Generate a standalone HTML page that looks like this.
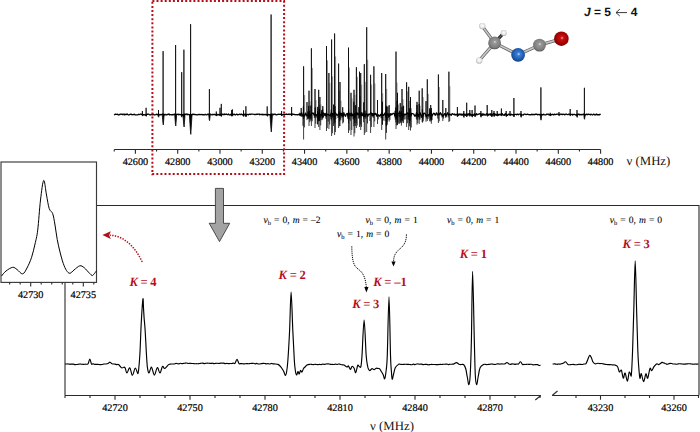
<!DOCTYPE html>
<html><head><meta charset="utf-8"><style>
html,body{margin:0;padding:0;background:#fff;width:700px;height:432px;overflow:hidden}
svg{display:block;text-rendering:geometricPrecision}
.ax{stroke:#2a2a2a;stroke-width:1.1;fill:none}
.sp{fill:none;stroke:#000;stroke-linejoin:round}
.tl{font-family:"Liberation Serif",serif;font-size:10.2px;fill:#000;stroke:#000;stroke-width:0.2px}
.axl{font-family:"Liberation Serif",serif;font-size:12.8px;fill:#111}
.jl{font-family:"Liberation Sans",sans-serif;font-size:12px;font-weight:bold;fill:#111}
.lab{font-family:"Liberation Serif",serif;font-size:9.6px;fill:#000;stroke:#000;stroke-width:0.08px;word-spacing:0.6px}
.eq{fill:#666;stroke:#666}
.kl{font-family:"Liberation Serif",serif;font-size:12.6px;font-weight:bold;fill:#b50f1c;word-spacing:-0.5px}
</style></head><body>
<svg width="700" height="432" viewBox="0 0 700 432">
<defs>
<radialGradient id="gC" cx="0.5" cy="0.45" r="0.6" fx="0.52" fy="0.42"><stop offset="0" stop-color="#e6e6e6"/><stop offset="0.18" stop-color="#9a9a9a"/><stop offset="0.75" stop-color="#7a7a7a"/><stop offset="1" stop-color="#3a3a3a"/></radialGradient>
<radialGradient id="gN" cx="0.5" cy="0.45" r="0.6" fx="0.55" fy="0.45"><stop offset="0" stop-color="#b8dcff"/><stop offset="0.2" stop-color="#3a80d8"/><stop offset="0.75" stop-color="#1a52a2"/><stop offset="1" stop-color="#0a2a60"/></radialGradient>
<radialGradient id="gO" cx="0.5" cy="0.45" r="0.6" fx="0.55" fy="0.45"><stop offset="0" stop-color="#ff9a9a"/><stop offset="0.2" stop-color="#c81010"/><stop offset="0.75" stop-color="#980000"/><stop offset="1" stop-color="#4a0000"/></radialGradient>
<radialGradient id="gH" cx="0.5" cy="0.45" r="0.6"><stop offset="0" stop-color="#ffffff"/><stop offset="0.6" stop-color="#e6e6e6"/><stop offset="1" stop-color="#8a8a8a"/></radialGradient>
</defs>
<line x1="494.6" y1="42.9" x2="482.3" y2="26.1" stroke="#6a6a6a" stroke-width="3.2" stroke-linecap="round"/>
<line x1="494.6" y1="42.9" x2="482.3" y2="26.1" stroke="#c8c8c8" stroke-width="1.6" stroke-linecap="round"/>
<line x1="494.6" y1="42.9" x2="479.2" y2="60.5" stroke="#6a6a6a" stroke-width="3.2" stroke-linecap="round"/>
<line x1="494.6" y1="42.9" x2="479.2" y2="60.5" stroke="#c8c8c8" stroke-width="1.6" stroke-linecap="round"/>
<line x1="494.6" y1="42.9" x2="518.1" y2="54.8" stroke="#6a6a6a" stroke-width="3.2" stroke-linecap="round"/>
<line x1="494.6" y1="42.9" x2="518.1" y2="54.8" stroke="#c8c8c8" stroke-width="1.6" stroke-linecap="round"/>
<line x1="518.1" y1="54.8" x2="539.5" y2="45.1" stroke="#6a6a6a" stroke-width="3.2" stroke-linecap="round"/>
<line x1="518.1" y1="54.8" x2="539.5" y2="45.1" stroke="#c8c8c8" stroke-width="1.6" stroke-linecap="round"/>
<line x1="539.5" y1="45.1" x2="561.4" y2="38.7" stroke="#6a6a6a" stroke-width="3.2" stroke-linecap="round"/>
<line x1="539.5" y1="45.1" x2="561.4" y2="38.7" stroke="#c8c8c8" stroke-width="1.6" stroke-linecap="round"/>
<line x1="494.6" y1="42.9" x2="503.7" y2="33" stroke="#222" stroke-width="3.2" stroke-linecap="round"/>
<line x1="494.6" y1="42.9" x2="503.7" y2="33" stroke="#5a5a5a" stroke-width="1.2" stroke-linecap="round"/>
<circle cx="482.3" cy="26.1" r="3.1" fill="url(#gH)"/>
<circle cx="479.2" cy="60.5" r="3.1" fill="url(#gH)"/>
<circle cx="494.6" cy="42.9" r="6.4" fill="url(#gC)"/>
<circle cx="503.7" cy="33" r="2.9" fill="url(#gH)"/>
<circle cx="518.1" cy="54.8" r="6.9" fill="url(#gN)"/>
<circle cx="539.5" cy="45.1" r="6.4" fill="url(#gC)"/>
<circle cx="561.4" cy="38.7" r="7.3" fill="url(#gO)"/>
<path d="M304.6 114.5 L304.6 95.08 M310 114.5 L310 101.38 M312.4 114.5 L312.4 68.09 M316 114.5 L316 100.14 M319.7 114.5 L319.7 104.94 M320.9 114.5 L320.9 104.41 M327.5 114.5 L327.5 60.34 M329.9 114.5 L329.9 82.87 M332.6 114.5 L332.6 76.41 M335.6 114.5 L335.6 56.42 M339.6 114.5 L339.6 90.66 M341 114.5 L341 100.77 M349.5 114.5 L349.5 67.46 M352 114.5 L352 98.38 M355 114.5 L355 94.82 M357.4 114.5 L357.4 76.86 M360.5 114.5 L360.5 96.12 M361.7 114.5 L361.7 84.66 M365.3 114.5 L365.3 81.87 M367.7 114.5 L367.7 59.74 M371.6 114.5 L371.6 84.61 M374.9 114.5 L374.9 83.46 M382.7 114.5 L382.7 93.31 M386.7 114.5 L386.7 88.95 M397 114.5 L397 82.57 M398.5 114.5 L398.5 104.48 M403 114.5 L403 99.25 M407.6 114.5 L407.6 91.44 M409.7 114.5 L409.7 101.06 M411.5 114.5 L411.5 108.32 M420.2 114.5 L420.2 105.75 M423.2 114.5 L423.2 97.13 M428.3 114.5 L428.3 93.89 M439.4 114.5 L439.4 87.07 M449.9 114.5 L449.9 86.18" fill="none" stroke="#888" stroke-width="0.9"/>
<path d="M114 114.87 L114.6 114.61 L115.2 114.15 L115.8 114.25 L116.4 114.35 L117 114.36 L117.6 114.12 L118.2 114.85 L118.8 114.99 L119.4 114.47 L120 114.48 L120.6 114.09 L121.2 114.1 L121.8 114.34 L122.4 114.26 L123 114.83 L123.6 114.16 L124.2 114.02 L124.8 114.95 L125.4 114.53 L126 114.15 L126.6 114.54 L127.2 114.03 L127.8 114.53 L128.4 114.98 L129 114.86 L129.6 114.7 L130.2 114.26 L130.8 114.37 L131.4 114.17 L132 114.77 L132.6 114.53 L133.2 114.78 L133.8 114.33 L134.4 114.22 L135 114.81 L135.6 114.98 L136.2 114.85 L136.8 114.81 L137.4 114.82 L138 114.74 L138.6 114.23 L139.2 114.52 L139.8 114.36 L140.4 114.03 L141 114.03 L141.6 114.28 L142.2 114.26 L142.8 114.69 L143.4 114.96 L144 114.45 L144.6 114.94 L145.2 114.99 L145.8 114.96 L146.4 114.36 L147 114.22 L147.6 114.23 L148.2 114.2 L148.8 114.2 L149.4 114.62 L150 114.9 L150.6 114.84 L151.2 114.48 L151.8 114.65 L152.4 114.8 L153 114.08 L153.6 114.66 L154.2 114.91 L154.8 114.78 L155.4 114.75 L156 114.48 L156.6 114.18 L157.2 114.79 L157.8 114.33 L158.4 114.8 L159 114.97 L159.6 114.4 L160.2 114.4 L160.8 114.95 L161.4 114.72 L162 114.17 L162.6 114.13 L163.2 114.15 L163.8 114.9 L164.4 114.81 L165 114.15 L165.6 114.83 L166.2 114.98 L166.8 114.66 L167.4 114.35 L168 114.55 L168.6 114.13 L169.2 114.01 L169.8 114.97 L170.4 114.65 L171 114.53 L171.6 114.93 L172.2 114.43 L172.8 114.87 L173.4 114.83 L174 114.21 L174.6 114.25 L175.2 114.29 L175.8 114.24 L176.4 114.59 L177 114.26 L177.6 114.42 L178.2 114.13 L178.8 114.91 L179.4 114.35 L180 114.46 L180.6 114.58 L181.2 114.9 L181.8 114.42 L182.4 114.92 L183 114.5 L183.6 114.53 L184.2 114.52 L184.8 114.02 L185.4 114.44 L186 114.18 L186.6 114 L187.2 114.8 L187.8 114.17 L188.4 114.47 L189 114.73 L189.6 114.56 L190.2 114.33 L190.8 114.52 L191.4 114.56 L192 114.78 L192.6 114.11 L193.2 114.56 L193.8 114.25 L194.4 114.28 L195 114.77 L195.6 114.51 L196.2 114.56 L196.8 114.76 L197.4 114.91 L198 114.44 L198.6 114.61 L199.2 114.51 L199.8 114.51 L200.4 114.69 L201 114.45 L201.6 114.53 L202.2 114.48 L202.8 114.94 L203.4 114.7 L204 114.88 L204.6 114.94 L205.2 114.26 L205.8 114.56 L206.4 114.94 L207 114.84 L207.6 114.14 L208.2 114.12 L208.8 114.44 L209.4 114.07 L210 114.24 L210.6 114.07 L211.2 114.67 L211.8 114.78 L212.4 114.9 L213 114.15 L213.6 114.72 L214.2 114.66 L214.8 114.14 L215.4 114.88 L216 114.97 L216.6 114.22 L217.2 114.95 L217.8 114.4 L218.4 114.49 L219 114.99 L219.6 114.83 L220.2 114.16 L220.8 114.43 L221.4 114.52 L222 114.34 L222.6 114.2 L223.2 114.32 L223.8 114.72 L224.4 114.02 L225 114.55 L225.6 114.44 L226.2 114.02 L226.8 114.33 L227.4 114.62 L228 114.51 L228.6 114.06 L229.2 114.99 L229.8 114.79 L230.4 114.97 L231 114.1 L231.6 114.27 L232.2 114.04 L232.8 114.78 L233.4 114.27 L234 114.13 L234.6 114.42 L235.2 114.91 L235.8 114.82 L236.4 114.26 L237 114.15 L237.6 114.92 L238.2 114.57 L238.8 114.7 L239.4 114.09 L240 114.06 L240.6 114.69 L241.2 114.43 L241.8 114.07 L242.4 114.94 L243 114.63 L243.6 114.8 L244.2 114.08 L244.8 114.86 L245.4 114.07 L246 114.86 L246.6 114.45 L247.2 114.34 L247.8 114.55 L248.4 114.93 L249 114.27 L249.6 114.13 L250.2 114.53 L250.8 114.24 L251.4 114.11 L252 114.16 L252.6 114.05 L253.2 114.2 L253.8 114.31 L254.4 114.31 L255 114.76 L255.6 114.29 L256.2 114.5 L256.8 114.18 L257.4 114.35 L258 114.02 L258.6 114.25 L259.2 114.02 L259.8 114.73 L260.4 114.55 L261 114.19 L261.6 114.47 L262.2 114.93 L262.8 114.11 L263.4 114.82 L264 114.43 L264.6 114.5 L265.2 114.83 L265.8 114.39 L266.4 114.51 L267 114.69 L267.6 114.98 L268.2 114.34 L268.8 114.83 L269.4 114.71 L270 114.64 L270.6 114.4 L271.2 114.35 L271.8 114.05 L272.4 114.13 L273 114.07 L273.6 114.74 L274.2 114.26 L274.8 114.16 L275.4 114.08 L276 114.84 L276.6 114.87 L277.2 114.67 L277.8 114.28 L278.4 114.24 L279 114.29 L279.6 114.46 L280.2 114.16 L280.8 114.45 L281.4 114.26 L282 114.96 L282.6 114.97 L283.2 114.55 L283.8 114.24 L284.4 114.97 L285 114.31 L285.6 114.36 L286.2 114 L286.8 114.38 L287.4 114.47 L288 114.5 L288.6 114.2 L289.2 114.5 L289.8 114 L290.4 114.26 L291 114.09 L291.6 114.4 L292.2 114.04 L292.8 114.02 L293.4 114.3 L294 114.23 L294.6 114.59 L295.2 114.53 L295.8 114.75 L296.4 114.66 L297 114.72 L297.6 114.88 L298.2 114.39 L298.8 114.33 L299.4 114.98 L300 113.24 L300.6 115.31 L301.2 115.02 L301.8 112.86 L302.4 115.71 L303 115.91 L303.6 114.96 L304.2 115.34 L304.8 115.62 L305.4 113.2 L306 114.59 L306.6 114.52 L307.2 115.71 L307.8 115.6 L308.4 115.68 L309 114.8 L309.6 115.91 L310.2 115.16 L310.8 115.2 L311.4 113.53 L312 112.81 L312.6 113.18 L313.2 114 L313.8 113.08 L314.4 115.71 L315 114.71 L315.6 114.96 L316.2 114.95 L316.8 115.15 L317.4 114.46 L318 112.71 L318.6 115.57 L319.2 115.39 L319.8 114.51 L320.4 114.63 L321 115.07 L321.6 112.94 L322.2 115.35 L322.8 113.61 L323.4 112.97 L324 113.66 L324.6 115.33 L325.2 113.44 L325.8 115.36 L326.4 116.21 L327 114.48 L327.6 114.08 L328.2 114.42 L328.8 115.16 L329.4 115.46 L330 114.92 L330.6 115.01 L331.2 112.98 L331.8 113.23 L332.4 113.61 L333 115.38 L333.6 113.8 L334.2 114.74 L334.8 112.74 L335.4 112.92 L336 113.67 L336.6 115.12 L337.2 115.19 L337.8 115.13 L338.4 113.75 L339 114.56 L339.6 114.37 L340.2 114.38 L340.8 113.13 L341.4 115.92 L342 113.42 L342.6 116.22 L343.2 116.07 L343.8 112.76 L344.4 114.35 L345 115.65 L345.6 116.19 L346.2 114.32 L346.8 113.67 L347.4 113.46 L348 116.1 L348.6 113.46 L349.2 114.79 L349.8 113.21 L350.4 114.59 L351 116.13 L351.6 113.18 L352.2 115.65 L352.8 114.53 L353.4 115.89 L354 115.23 L354.6 113.53 L355.2 115.93 L355.8 114.45 L356.4 112.79 L357 112.71 L357.6 114.47 L358.2 114.32 L358.8 113.79 L359.4 113.21 L360 113.94 L360.6 113.84 L361.2 115.72 L361.8 112.71 L362.4 115.4 L363 115.72 L363.6 113.13 L364.2 116.04 L364.8 115.27 L365.4 115.95 L366 113.74 L366.6 114.04 L367.2 114.11 L367.8 116.3 L368.4 114.82 L369 114 L369.6 114.24 L370.2 113.69 L370.8 112.87 L371.4 113.07 L372 115.7 L372.6 113.73 L373.2 116.07 L373.8 113.6 L374.4 113.66 L375 114.54 L375.6 113.38 L376.2 114.04 L376.8 116.14 L377.4 115.88 L378 115.62 L378.6 114.97 L379.2 115.99 L379.8 116.09 L380.4 114.68 L381 115.29 L381.6 112.88 L382.2 115.34 L382.8 114.32 L383.4 115.41 L384 115.02 L384.6 113.73 L385.2 112.88 L385.8 116.04 L386.4 113.16 L387 114.4 L387.6 113.94 L388.2 113.77 L388.8 115.36 L389.4 116.21 L390 113.64 L390.6 115.06 L391.2 113.78 L391.8 114.71 L392.4 114.12 L393 113.3 L393.6 113.28 L394.2 113.45 L394.8 115.96 L395.4 114.49 L396 113.49 L396.6 115.96 L397.2 116.29 L397.8 114.32 L398.4 113.2 L399 113.39 L399.6 113.03 L400.2 113.93 L400.8 113.03 L401.4 113.56 L402 113.63 L402.6 114.75 L403.2 115.89 L403.8 115.4 L404.4 114.19 L405 114.19 L405.6 114.59 L406.2 114.06 L406.8 113.92 L407.4 112.92 L408 113.7 L408.6 116.18 L409.2 113.15 L409.8 114.51 L410.4 114.97 L411 115.81 L411.6 113.48 L412.2 113.68 L412.8 113.59 L413.4 114.14 L414 114.31 L414.6 116.13 L415.2 115.76 L415.8 115.84 L416.4 112.78 L417 112.82 L417.6 115.25 L418.2 115.92 L418.8 114.4 L419.4 114.81 L420 112.7 L420.6 114.11 L421.2 116.04 L421.8 115.67 L422.4 115.78 L423 116.2 L423.6 113.59 L424.2 113.09 L424.8 113.26 L425.4 114.58 L426 115.16 L426.6 116.09 L427.2 115.3 L427.8 115.03 L428.4 115.45 L429 114.35 L429.6 114.69 L430.2 112.84 L430.8 115.52 L431.4 113.54 L432 116.01 L432.6 115.02 L433.2 113.79 L433.8 113.16 L434.4 113.61 L435 114.99 L435.6 115.21 L436.2 113.1 L436.8 112.95 L437.4 114.59 L438 114.8 L438.6 114.1 L439.2 113.5 L439.8 114.86 L440.4 112.74 L441 113.79 L441.6 114.36 L442.2 116.15 L442.8 115.02 L443.4 115.88 L444 114.41 L444.6 113.55 L445.2 113.59 L445.8 116.16 L446.4 115.24 L447 113.81 L447.6 112.78 L448.2 114.49 L448.8 115.13 L449.4 114.21 L450 114.06 L450.6 114.8 L451.2 115.27 L451.8 114.01 L452.4 113.66 L453 114.21 L453.6 114.36 L454.2 114.83 L454.8 113.96 L455.4 115.03 L456 114.93 L456.6 114.51 L457.2 113.97 L457.8 115.35 L458.4 114.16 L459 115.08 L459.6 114.02 L460.2 114 L460.8 114.97 L461.4 114.13 L462 115.31 L462.6 114.49 L463.2 113.94 L463.8 114 L464.4 114.35 L465 114.8 L465.6 115.31 L466.2 113.86 L466.8 114.31 L467.4 113.98 L468 115.35 L468.6 113.86 L469.2 113.69 L469.8 113.71 L470.4 114.31 L471 115.22 L471.6 115.19 L472.2 114.92 L472.8 115.4 L473.4 115.28 L474 114.19 L474.6 113.93 L475.2 115.28 L475.8 114.94 L476.4 113.66 L477 114.8 L477.6 114.28 L478.2 114.27 L478.8 114.2 L479.4 113.9 L480 113.61 L480.6 114.1 L481.2 114.23 L481.8 115.32 L482.4 113.82 L483 115.34 L483.6 113.97 L484.2 114.24 L484.8 115.08 L485.4 115.08 L486 114.38 L486.6 113.69 L487.2 114.45 L487.8 114.27 L488.4 115.26 L489 113.95 L489.6 114.26 L490.2 115.21 L490.8 113.65 L491.4 114.34 L492 115.06 L492.6 114.98 L493.2 113.67 L493.8 113.66 L494.4 113.71 L495 115.26 L495.6 114.06 L496.2 114.95 L496.8 115.22 L497.4 114.21 L498 114.09 L498.6 115.32 L499.2 114.71 L499.8 114.07 L500.4 114.89 L501 114.17 L501.6 114.1 L502.2 113.61 L502.8 114.96 L503.4 115.25 L504 114.74 L504.6 115.3 L505.2 113.64 L505.8 114.02 L506.4 114.46 L507 115.32 L507.6 115.32 L508.2 114.3 L508.8 114.05 L509.4 114.37 L510 114.49 L510.6 114.93 L511.2 114.18 L511.8 114.8 L512.4 114.74 L513 114.82 L513.6 114.77 L514.2 114.61 L514.8 114.33 L515.4 114.32 L516 114.36 L516.6 114.78 L517.2 114.08 L517.8 114.2 L518.4 114.75 L519 114.25 L519.6 114.06 L520.2 114.03 L520.8 114.55 L521.4 114.33 L522 114.98 L522.6 114.88 L523.2 114.99 L523.8 114.26 L524.4 114.08 L525 114.1 L525.6 114.5 L526.2 114.71 L526.8 114.45 L527.4 114.23 L528 114.42 L528.6 114.62 L529.2 114.67 L529.8 114.75 L530.4 114.85 L531 114.66 L531.6 114.12 L532.2 114.84 L532.8 114.29 L533.4 114.57 L534 114.37 L534.6 114.74 L535.2 114.2 L535.8 114.25 L536.4 114.25 L537 114.15 L537.6 114.88 L538.2 114.58 L538.8 114.33 L539.4 114.4 L540 114.99 L540.6 114.51 L541.2 114.23 L541.8 114.81 L542.4 114.65 L543 114.99 L543.6 114.1 L544.2 114.47 L544.8 114.82 L545.4 114.84 L546 114.91 L546.6 114.04 L547.2 114.29 L547.8 114.12 L548.4 114.19 L549 114.97 L549.6 114.58 L550.2 114.93 L550.8 114.37 L551.4 114.87 L552 114.45 L552.6 114.26 L553.2 114.78 L553.8 114.95 L554.4 114.11 L555 114.6 L555.6 114.62 L556.2 114.22 L556.8 114.37 L557.4 114.14 L558 114.2 L558.6 114.25 L559.2 114.6 L559.8 114.65 L560.4 114.2 L561 114.01 L561.6 114.33 L562.2 114.68 L562.8 114.19 L563.4 114.31 L564 114.2 L564.6 114.8 L565.2 114.55 L565.8 114.06 L566.4 114.1 L567 114.4 L567.6 114.55 L568.2 114.64 L568.8 114.09 L569.4 114.16 L570 114.7 L570.6 114.41 L571.2 114.28 L571.8 114.31 L572.4 114.95 L573 114.31 L573.6 114.57 L574.2 114.36 L574.8 114.42 L575.4 114.86 L576 115 L576.6 114.36 L577.2 114.2 L577.8 114.73 L578.4 114.2 L579 114.01 L579.6 114.9 L580.2 114.42 L580.8 114.82 L581.4 114.41 L582 114.88 L582.6 114.46 L583.2 114.16 L583.8 114.01 L584.4 114.55 L585 114.64 L585.6 114.91 L586.2 114.09 L586.8 114.62 L587.4 114.37 L588 114.5 L588.6 114.15 L589.2 114.28 L589.8 114.52 L590.4 114.93 L591 114.11 L591.6 114.49 L592.2 114.8 L592.8 114.97 L593.4 114.2 L594 114.13 L594.6 114.94 L595.2 114.98 L595.8 114.48 L596.4 114.05 L597 114.93 L597.6 114.39 L598.2 114.9 L598.8 114.62 L599.4 114.82 L600 114.16 L600.6 114.79" class="sp" stroke-width="1.3"/>
<path d="M142.4 114.5 L142.4 111 L142.4 115.5 M141.89 114.5 L142.2 115.66 L142.6 115.94 L143.11 114.5 Z M146.1 114.5 L146.1 107.8 L146.1 115.5 M145.58 114.5 L145.9 115.95 L146.3 116.31 L146.82 114.5 Z M158.5 114.5 L158.5 110 L158.5 115.5 M157.94 114.5 L158.3 116.65 L158.7 117.19 L159.26 114.5 Z M163.1 114.5 L163.1 51.1 L163.1 115.5 M162.23 114.5 L162.9 122.9 L163.3 125 L164.17 114.5 Z M175.6 114.5 L175.6 45 L175.6 115.5 M174.69 114.5 L175.4 123.7 L175.8 126 L176.71 114.5 Z M181.7 114.5 L181.7 72.2 L181.7 115.5 M181.14 114.5 L181.5 116.63 L181.9 117.16 L182.46 114.5 Z M183.9 114.5 L183.9 49.7 L183.9 115.5 M182.95 114.5 L183.7 124.5 L184.1 127 L185.05 114.5 Z M190.6 114.5 L190.6 24.2 L190.6 115.5 M189.35 114.5 L190.4 130.42 L190.8 134.4 L192.05 114.5 Z M209.4 114.5 L209.4 89.1 L209.4 115.5 M208.7 114.5 L209.2 119.46 L209.6 120.7 L210.3 114.5 Z M216.3 114.5 L216.3 111.5 L216.3 115.5 M215.8 114.5 L216.1 115.59 L216.5 115.87 L217 114.5 Z M220 114.5 L220 107.8 L220 115.5 M219.49 114.5 L219.8 115.65 L220.2 115.94 L220.71 114.5 Z M221.3 114.5 L221.3 103.9 L221.3 115.5 M220.77 114.5 L221.1 116.1 L221.5 116.5 L222.03 114.5 Z M231.7 114.5 L231.7 110 L231.7 115.5 M231.18 114.5 L231.5 115.94 L231.9 116.3 L232.42 114.5 Z M232.4 114.5 L232.4 109.4 L232.4 115.5 M231.89 114.5 L232.2 115.7 L232.6 116 L233.11 114.5 Z M243.5 114.5 L243.5 110.4 L243.5 115.5 M242.97 114.5 L243.3 116.13 L243.7 116.54 L244.23 114.5 Z M245.9 114.5 L245.9 106.3 L245.9 115.5 M245.35 114.5 L245.7 116.5 L246.1 117 L246.65 114.5 Z M267.2 114.5 L267.2 106.4 L267.2 115.5 M266.68 114.5 L267 115.91 L267.4 116.27 L267.92 114.5 Z M271.1 114.5 L271.1 14.5 L271.1 115.5 M269.95 114.5 L270.9 128.5 L271.3 132 L272.45 114.5 Z M281.6 114.5 L281.6 111 L281.6 115.5 M281.1 114.5 L281.4 115.5 L281.8 115.75 L282.3 114.5 Z M291.6 114.5 L291.6 107 L291.6 115.5 M291.09 114.5 L291.4 115.7 L291.8 115.99 L292.31 114.5 Z M301.2 114.5 L301.2 108 L301.2 116.95 M302 114.5 L302 116.6 M300.5 114.5 L300.5 115.02 M303.38 114.5 L303.38 106.42 L303.38 119.01 M304.18 114.5 L304.18 117.77 M302.68 114.5 L302.68 116.43 M303.6 114.5 L303.6 66.3 L303.6 139.5 M304.4 114.5 L304.4 127.38 M302.9 114.5 L302.9 125.79 M306.99 114.5 L306.99 102.06 L306.99 120.11 M307.79 114.5 L307.79 118.65 M306.29 114.5 L306.29 116.55 M307.89 114.5 L307.89 111.5 L307.89 118.86 M308.69 114.5 L308.69 117.77 M307.19 114.5 L307.19 115.77 M308.7 114.5 L308.7 105.92 L308.7 117.84 M309.5 114.5 L309.5 116.73 M308 114.5 L308 115.75 M309 114.5 L309 90.7 L309 126 M309.8 114.5 L309.8 122.21 M308.3 114.5 L308.3 119.07 M309.42 114.5 L309.42 110.84 L309.42 119.35 M310.22 114.5 L310.22 117.78 M308.72 114.5 L308.72 115.5 M310.87 114.5 L310.87 105.61 L310.87 120.79 M311.67 114.5 L311.67 119.2 M310.17 114.5 L310.17 116.68 M311.4 114.5 L311.4 48.3 L311.4 126 M312.2 114.5 L312.2 121.33 M310.7 114.5 L310.7 119.43 M315 114.5 L315 89 L315 128 M315.8 114.5 L315.8 123.72 M314.3 114.5 L314.3 117.93 M315.22 114.5 L315.22 107.5 L315.22 117.73 M316.02 114.5 L316.02 116.25 M314.52 114.5 L314.52 115.27 M317.56 114.5 L317.56 110.85 L317.56 124.41 M318.36 114.5 L318.36 121.16 M316.86 114.5 L316.86 116.76 M317.71 114.5 L317.71 106.9 L317.71 124.31 M318.51 114.5 L318.51 121.14 M317.01 114.5 L317.01 117.96 M318.7 114.5 L318.7 89.8 L318.7 127 M319.5 114.5 L319.5 120.95 M318 114.5 L318 119.39 M319.4 114.5 L319.4 108.78 L319.4 121.02 M320.2 114.5 L320.2 119.67 M318.7 114.5 L318.7 117.32 M319.9 114.5 L319.9 97 L319.9 130 M320.7 114.5 L320.7 125.42 M319.2 114.5 L319.2 117.85 M321.64 114.5 L321.64 110.2 L321.64 120.28 M322.44 114.5 L322.44 118.26 M320.94 114.5 L320.94 117.3 M322.64 114.5 L322.64 109.56 L322.64 119.59 M323.44 114.5 L323.44 117.32 M321.94 114.5 L321.94 116.83 M322.8 114.5 L322.8 106.12 L322.8 117.85 M323.6 114.5 L323.6 117.51 M322.1 114.5 L322.1 115.91 M326.5 114.5 L326.5 46.1 L326.5 131 M327.3 114.5 L327.3 128.13 M325.8 114.5 L325.8 118.76 M328.9 114.5 L328.9 73 L328.9 129 M329.7 114.5 L329.7 124.6 M328.2 114.5 L328.2 121.56 M331.31 114.5 L331.31 109.71 L331.31 120.56 M332.11 114.5 L332.11 117.93 M330.61 114.5 L330.61 117.15 M331.6 114.5 L331.6 39.5 L331.6 136 M332.4 114.5 L332.4 133.25 M330.9 114.5 L330.9 119.22 M333.49 114.5 L333.49 104.6 L333.49 126.03 M334.29 114.5 L334.29 123.75 M332.79 114.5 L332.79 117.36 M334.6 114.5 L334.6 33.5 L334.6 135 M335.4 114.5 L335.4 132.1 M333.9 114.5 L333.9 120.29 M335 114.5 L335 106.17 L335 122.8 M335.8 114.5 L335.8 119.13 M334.3 114.5 L334.3 117.41 M338.6 114.5 L338.6 63.6 L338.6 128 M339.4 114.5 L339.4 126.22 M337.9 114.5 L337.9 118.04 M339.41 114.5 L339.41 111.45 L339.41 121.27 M340.21 114.5 L340.21 119.26 M338.71 114.5 L338.71 116.5 M340 114.5 L340 82 L340 126 M340.8 114.5 L340.8 120.42 M339.3 114.5 L339.3 117.43 M342.69 114.5 L342.69 107.26 L342.69 123.52 M343.49 114.5 L343.49 122.39 M341.99 114.5 L341.99 118.14 M348.5 114.5 L348.5 47.6 L348.5 133 M349.3 114.5 L349.3 130.38 M347.8 114.5 L347.8 119.14 M348.57 114.5 L348.57 109.84 L348.57 123.36 M349.37 114.5 L349.37 119.34 M347.87 114.5 L347.87 117.68 M351 114.5 L351 92.8 L351 135 M351.8 114.5 L351.8 129.97 M350.3 114.5 L350.3 120.81 M353.82 114.5 L353.82 101.77 L353.82 126.12 M354.62 114.5 L354.62 122.89 M353.12 114.5 L353.12 118.85 M354 114.5 L354 89.8 L354 136.5 M354.8 114.5 L354.8 133.27 M353.3 114.5 L353.3 119.59 M355.39 114.5 L355.39 105.27 L355.39 126.08 M356.19 114.5 L356.19 123.21 M354.69 114.5 L354.69 118.18 M356.4 114.5 L356.4 67.2 L356.4 128 M357.2 114.5 L357.2 125.56 M355.7 114.5 L355.7 118.27 M358.86 114.5 L358.86 107.11 L358.86 118.43 M359.66 114.5 L359.66 117.37 M358.16 114.5 L358.16 115.71 M359.5 114.5 L359.5 71.7 L359.5 127 M360.3 114.5 L360.3 124.57 M358.8 114.5 L358.8 118.66 M360.7 114.5 L360.7 73 L360.7 130 M361.5 114.5 L361.5 126.86 M360 114.5 L360 117.82 M363.68 114.5 L363.68 102.4 L363.68 118.61 M364.48 114.5 L364.48 116.97 M362.98 114.5 L362.98 116.11 M364.3 114.5 L364.3 64.2 L364.3 135 M365.1 114.5 L365.1 132.82 M363.6 114.5 L363.6 122.2 M365.05 114.5 L365.05 110.73 L365.05 118.32 M365.85 114.5 L365.85 116.89 M364.35 114.5 L364.35 115.27 M366.7 114.5 L366.7 27.2 L366.7 132 M367.5 114.5 L367.5 123.49 M366 114.5 L366 118.78 M370.6 114.5 L370.6 74.8 L370.6 133 M371.4 114.5 L371.4 126.95 M369.9 114.5 L369.9 121.05 M373.9 114.5 L373.9 66.3 L373.9 127 M374.7 114.5 L374.7 121.41 M373.2 114.5 L373.2 117.85 M377.5 114.5 L377.5 100 L377.5 124 M378.3 114.5 L378.3 119.33 M376.8 114.5 L376.8 116.41 M381.7 114.5 L381.7 73 L381.7 130 M382.5 114.5 L382.5 124.45 M381 114.5 L381 118.09 M382.42 114.5 L382.42 101.78 L382.42 124.87 M383.22 114.5 L383.22 120.62 M381.72 114.5 L381.72 118.39 M385.7 114.5 L385.7 74 L385.7 139.5 M386.5 114.5 L386.5 132.89 M385 114.5 L385 121.03 M386.16 114.5 L386.16 105.72 L386.16 125.38 M386.96 114.5 L386.96 122 M385.46 114.5 L385.46 117.11 M386.57 114.5 L386.57 107.14 L386.57 126.29 M387.37 114.5 L387.37 124.81 M385.87 114.5 L385.87 117.72 M387.83 114.5 L387.83 106.51 L387.83 120.2 M388.63 114.5 L388.63 117.69 M387.13 114.5 L387.13 115.8 M389.16 114.5 L389.16 105.12 L389.16 121.61 M389.96 114.5 L389.96 119.87 M388.46 114.5 L388.46 117.78 M395.14 114.5 L395.14 110.82 L395.14 118.11 M395.94 114.5 L395.94 117.43 M394.44 114.5 L394.44 115.66 M395.84 114.5 L395.84 107.4 L395.84 122.43 M396.64 114.5 L396.64 119.3 M395.14 114.5 L395.14 116.11 M396 114.5 L396 51.6 L396 129 M396.8 114.5 L396.8 125.49 M395.3 114.5 L395.3 119.85 M397.07 114.5 L397.07 100.58 L397.07 124.9 M397.87 114.5 L397.87 122.38 M396.37 114.5 L396.37 117.96 M397.5 114.5 L397.5 92.8 L397.5 125 M398.3 114.5 L398.3 123.69 M396.8 114.5 L396.8 118.91 M399.62 114.5 L399.62 110.83 L399.62 123.81 M400.42 114.5 L400.42 122.52 M398.92 114.5 L398.92 116.49 M400.23 114.5 L400.23 103.09 L400.23 122.66 M401.03 114.5 L401.03 120.31 M399.53 114.5 L399.53 117.12 M401.43 114.5 L401.43 110.91 L401.43 125.6 M402.23 114.5 L402.23 121.1 M400.73 114.5 L400.73 116.91 M402 114.5 L402 89 L402 123 M402.8 114.5 L402.8 121.4 M401.3 114.5 L401.3 116.23 M402.06 114.5 L402.06 106.8 L402.06 120.33 M402.86 114.5 L402.86 119.61 M401.36 114.5 L401.36 115.91 M403.57 114.5 L403.57 105.83 L403.57 123.06 M404.37 114.5 L404.37 119.46 M402.87 114.5 L402.87 117.77 M406.6 114.5 L406.6 82.3 L406.6 127 M407.4 114.5 L407.4 123.28 M405.9 114.5 L405.9 119.41 M408.7 114.5 L408.7 86.8 L408.7 130 M409.5 114.5 L409.5 123.33 M408 114.5 L408 119.04 M409.42 114.5 L409.42 108.33 L409.42 126.32 M410.22 114.5 L410.22 120.64 M408.72 114.5 L408.72 120.02 M410.5 114.5 L410.5 97 L410.5 130.5 M411.3 114.5 L411.3 127.51 M409.8 114.5 L409.8 121.13 M417 114.5 L417 101.88 L417 124.68 M417.8 114.5 L417.8 123.03 M416.3 114.5 L416.3 118.81 M417 114.5 L417 105 L417 120 M417.8 114.5 L417.8 118.27 M416.3 114.5 L416.3 116.82 M419.16 114.5 L419.16 103.81 L419.16 119.7 M419.96 114.5 L419.96 118.04 M418.46 114.5 L418.46 115.89 M419.2 114.5 L419.2 90.7 L419.2 124 M420 114.5 L420 119.65 M418.5 114.5 L418.5 117.06 M422.2 114.5 L422.2 88.3 L422.2 122 M423 114.5 L423 119.26 M421.5 114.5 L421.5 117.69 M422.42 114.5 L422.42 109.51 L422.42 122.73 M423.22 114.5 L423.22 121.4 M421.72 114.5 L421.72 117.9 M426 114.5 L426 101.11 L426 121.77 M426.8 114.5 L426.8 118.91 M425.3 114.5 L425.3 117.16 M427.3 114.5 L427.3 79.3 L427.3 121 M428.1 114.5 L428.1 118.88 M426.6 114.5 L426.6 117.34 M429.6 114.5 L429.6 108.44 L429.6 121.24 M430.4 114.5 L430.4 118.58 M428.9 114.5 L428.9 117.15 M430.7 114.5 L430.7 105 L430.7 120 M431.5 114.5 L431.5 119.37 M430 114.5 L430 115.96 M430.71 114.5 L430.71 110.61 L430.71 121.54 M431.51 114.5 L431.51 120.5 M430.01 114.5 L430.01 115.94 M431.32 114.5 L431.32 108.05 L431.32 123.76 M432.12 114.5 L432.12 120.09 M430.62 114.5 L430.62 117.01 M438.4 114.5 L438.4 74.5 L438.4 123 M439.2 114.5 L439.2 121.28 M437.7 114.5 L437.7 118.61 M442.8 114.5 L442.8 100 L442.8 121 M443.6 114.5 L443.6 118.6 M442.1 114.5 L442.1 117.52 M445.8 114.5 L445.8 108 L445.8 118 M446.6 114.5 L446.6 116.71 M445.1 114.5 L445.1 115.45 M448.9 114.5 L448.9 71.7 L448.9 122 M449.7 114.5 L449.7 120.97 M448.2 114.5 L448.2 117.42 M457.4 114.5 L457.4 107 L457.4 115.5 M456.86 114.5 L457.2 116.36 L457.6 116.83 L458.14 114.5 Z M463.8 114.5 L463.8 111 L463.8 115.5 M463.23 114.5 L463.6 116.87 L464 117.46 L464.57 114.5 Z M466.7 114.5 L466.7 102.7 L466.7 115.5 M466.15 114.5 L466.5 116.5 L466.9 117 L467.45 114.5 Z M469.8 114.5 L469.8 110 L469.8 115.5 M469.27 114.5 L469.6 116.05 L470 116.44 L470.53 114.5 Z M472.1 114.5 L472.1 110 L472.1 115.5 M471.54 114.5 L471.9 116.64 L472.3 117.18 L472.86 114.5 Z M475 114.5 L475 105.5 L475 115.5 M474.45 114.5 L474.8 116.42 L475.2 116.9 L475.75 114.5 Z M480.9 114.5 L480.9 111 L480.9 115.5 M480.34 114.5 L480.7 116.67 L481.1 117.22 L481.66 114.5 Z M487.2 114.5 L487.2 105 L487.2 115.5 M486.68 114.5 L487 116 L487.4 116.37 L487.92 114.5 Z M491.8 114.5 L491.8 110 L491.8 115.5 M491.25 114.5 L491.6 116.46 L492 116.95 L492.55 114.5 Z M494 114.5 L494 111 L494 115.5 M493.46 114.5 L493.8 116.21 L494.2 116.64 L494.74 114.5 Z M497.2 114.5 L497.2 111 L497.2 115.5 M496.69 114.5 L497 115.79 L497.4 116.12 L497.91 114.5 Z M501.4 114.5 L501.4 108.5 L501.4 115.5 M500.89 114.5 L501.2 115.64 L501.6 115.92 L502.11 114.5 Z M506.2 114.5 L506.2 111 L506.2 115.5 M505.66 114.5 L506 116.3 L506.4 116.75 L506.94 114.5 Z M510 114.5 L510 111 L510 115.5 M509.5 114.5 L509.8 115.42 L510.2 115.66 L510.7 114.5 Z M513.9 114.5 L513.9 98 L513.9 115.5 M513.35 114.5 L513.7 116.5 L514.1 117 L514.65 114.5 Z M521 114.5 L521 111 L521 115.5 M520.44 114.5 L520.8 116.76 L521.2 117.32 L521.76 114.5 Z M540.9 114.5 L540.9 87.4 L540.9 115.5 M540.22 114.5 L540.7 119.06 L541.1 120.2 L541.78 114.5 Z M550.2 114.5 L550.2 112.8 L550.2 115.5 M549.7 114.5 L550 115.53 L550.4 115.79 L550.9 114.5 Z M559 114.5 L559 112 L559 115.5 M558.51 114.5 L558.8 115.34 L559.2 115.55 L559.69 114.5 Z M570.2 114.5 L570.2 109 L570.2 115.5 M569.7 114.5 L570 115.47 L570.4 115.71 L570.9 114.5 Z M577 114.5 L577 110 L577 115.5 M576.44 114.5 L576.8 116.79 L577.2 117.36 L577.76 114.5 Z M584.4 114.5 L584.4 87.8 L584.4 115.5 M583.76 114.5 L584.2 118.34 L584.6 119.3 L585.24 114.5 Z" fill="#000" stroke="#000" stroke-width="0.75" stroke-linejoin="miter" stroke-miterlimit="1"/>
<line x1="114.3" y1="149.5" x2="600.6" y2="149.5" class="ax"/>
<line x1="114.25" y1="149.5" x2="114.25" y2="151.5" class="ax"/>
<line x1="135.4" y1="149.5" x2="135.4" y2="153.7" class="ax"/>
<text x="135.4" y="165" class="tl" text-anchor="middle">42600</text>
<line x1="156.55" y1="149.5" x2="156.55" y2="151.5" class="ax"/>
<line x1="177.69" y1="149.5" x2="177.69" y2="153.7" class="ax"/>
<text x="177.69" y="165" class="tl" text-anchor="middle">42800</text>
<line x1="198.84" y1="149.5" x2="198.84" y2="151.5" class="ax"/>
<line x1="219.98" y1="149.5" x2="219.98" y2="153.7" class="ax"/>
<text x="219.98" y="165" class="tl" text-anchor="middle">43000</text>
<line x1="241.13" y1="149.5" x2="241.13" y2="151.5" class="ax"/>
<line x1="262.27" y1="149.5" x2="262.27" y2="153.7" class="ax"/>
<text x="262.27" y="165" class="tl" text-anchor="middle">43200</text>
<line x1="283.42" y1="149.5" x2="283.42" y2="151.5" class="ax"/>
<line x1="304.56" y1="149.5" x2="304.56" y2="153.7" class="ax"/>
<text x="304.56" y="165" class="tl" text-anchor="middle">43400</text>
<line x1="325.71" y1="149.5" x2="325.71" y2="151.5" class="ax"/>
<line x1="346.85" y1="149.5" x2="346.85" y2="153.7" class="ax"/>
<text x="346.85" y="165" class="tl" text-anchor="middle">43600</text>
<line x1="368" y1="149.5" x2="368" y2="151.5" class="ax"/>
<line x1="389.15" y1="149.5" x2="389.15" y2="153.7" class="ax"/>
<text x="389.15" y="165" class="tl" text-anchor="middle">43800</text>
<line x1="410.29" y1="149.5" x2="410.29" y2="151.5" class="ax"/>
<line x1="431.44" y1="149.5" x2="431.44" y2="153.7" class="ax"/>
<text x="431.44" y="165" class="tl" text-anchor="middle">44000</text>
<line x1="452.58" y1="149.5" x2="452.58" y2="151.5" class="ax"/>
<line x1="473.73" y1="149.5" x2="473.73" y2="153.7" class="ax"/>
<text x="473.73" y="165" class="tl" text-anchor="middle">44200</text>
<line x1="494.87" y1="149.5" x2="494.87" y2="151.5" class="ax"/>
<line x1="516.02" y1="149.5" x2="516.02" y2="153.7" class="ax"/>
<text x="516.02" y="165" class="tl" text-anchor="middle">44400</text>
<line x1="537.16" y1="149.5" x2="537.16" y2="151.5" class="ax"/>
<line x1="558.31" y1="149.5" x2="558.31" y2="153.7" class="ax"/>
<text x="558.31" y="165" class="tl" text-anchor="middle">44600</text>
<line x1="579.45" y1="149.5" x2="579.45" y2="151.5" class="ax"/>
<line x1="600.6" y1="149.5" x2="600.6" y2="153.7" class="ax"/>
<text x="600.6" y="165" class="tl" text-anchor="middle">44800</text>
<text x="626.5" y="165" class="axl">&#957; (MHz)</text>
<text x="584" y="16" class="jl"><tspan font-style="italic">J</tspan> = 5</text>
<text x="630.8" y="16" class="jl">4</text>
<path d="M616.2 12.6 H627 M619.8 9.2 L616 12.6 L619.8 16" fill="none" stroke="#222" stroke-width="0.9"/>
<line x1="152.4" y1="1.1" x2="285" y2="1.1" stroke="#b50f1c" stroke-width="2" stroke-dasharray="2 2.1"/>
<line x1="152.4" y1="1.8" x2="152.4" y2="175.2" stroke="#b50f1c" stroke-width="2" stroke-dasharray="2 2.1"/>
<line x1="284.1" y1="0.7" x2="284.1" y2="175.2" stroke="#b50f1c" stroke-width="2" stroke-dasharray="2 2.1"/>
<line x1="152.2" y1="174.1" x2="285" y2="174.1" stroke="#b50f1c" stroke-width="2" stroke-dasharray="2 2.1"/>
<polyline points="96,205.5 699,205.5 699,395.5" fill="none" class="ax"/>
<line x1="65" y1="205.5" x2="65" y2="395.5" class="ax"/>
<line x1="65" y1="395.5" x2="540.8" y2="395.5" class="ax"/>
<line x1="552.2" y1="395.5" x2="699" y2="395.5" class="ax"/>
<line x1="540.8" y1="395.5" x2="535.3" y2="400" class="ax"/>
<line x1="552.2" y1="395.5" x2="557.5" y2="391" class="ax"/>
<line x1="65" y1="395.5" x2="65" y2="397.9" class="ax"/>
<line x1="90" y1="395.5" x2="90" y2="397.9" class="ax"/>
<line x1="115" y1="395.5" x2="115" y2="399.7" class="ax"/>
<text x="115" y="411" class="tl" text-anchor="middle">42720</text>
<line x1="140" y1="395.5" x2="140" y2="397.9" class="ax"/>
<line x1="165" y1="395.5" x2="165" y2="397.9" class="ax"/>
<line x1="190" y1="395.5" x2="190" y2="399.7" class="ax"/>
<text x="190" y="411" class="tl" text-anchor="middle">42750</text>
<line x1="215" y1="395.5" x2="215" y2="397.9" class="ax"/>
<line x1="240" y1="395.5" x2="240" y2="397.9" class="ax"/>
<line x1="265" y1="395.5" x2="265" y2="399.7" class="ax"/>
<text x="265" y="411" class="tl" text-anchor="middle">42780</text>
<line x1="290" y1="395.5" x2="290" y2="397.9" class="ax"/>
<line x1="315" y1="395.5" x2="315" y2="397.9" class="ax"/>
<line x1="340" y1="395.5" x2="340" y2="399.7" class="ax"/>
<text x="340" y="411" class="tl" text-anchor="middle">42810</text>
<line x1="365" y1="395.5" x2="365" y2="397.9" class="ax"/>
<line x1="390" y1="395.5" x2="390" y2="397.9" class="ax"/>
<line x1="415" y1="395.5" x2="415" y2="399.7" class="ax"/>
<text x="415" y="411" class="tl" text-anchor="middle">42840</text>
<line x1="440" y1="395.5" x2="440" y2="397.9" class="ax"/>
<line x1="465" y1="395.5" x2="465" y2="397.9" class="ax"/>
<line x1="490" y1="395.5" x2="490" y2="399.7" class="ax"/>
<text x="490" y="411" class="tl" text-anchor="middle">42870</text>
<line x1="515" y1="395.5" x2="515" y2="397.9" class="ax"/>
<line x1="540" y1="395.5" x2="540" y2="397.9" class="ax"/>
<line x1="576" y1="395.5" x2="576" y2="397.9" class="ax"/>
<line x1="600.5" y1="395.5" x2="600.5" y2="399.7" class="ax"/>
<text x="600.5" y="411" class="tl" text-anchor="middle">43230</text>
<line x1="625" y1="395.5" x2="625" y2="397.9" class="ax"/>
<line x1="649.5" y1="395.5" x2="649.5" y2="397.9" class="ax"/>
<line x1="674" y1="395.5" x2="674" y2="399.7" class="ax"/>
<text x="674" y="411" class="tl" text-anchor="middle">43260</text>
<line x1="698.5" y1="395.5" x2="698.5" y2="397.9" class="ax"/>
<path d="M65 364 C65.28 364 66.11 364 66.67 363.99 C67.22 363.98 67.78 363.9 68.33 363.95 C68.89 364 69.44 364.28 70 364.3 C70.56 364.32 71.11 364.09 71.67 364.07 C72.22 364.05 72.78 364.09 73.33 364.18 C73.89 364.27 74.44 364.54 75 364.6 C75.56 364.66 76.11 364.59 76.67 364.53 C77.22 364.48 77.78 364.38 78.33 364.29 C78.89 364.2 79.44 364.01 80 364 C80.56 363.99 81.11 364.15 81.67 364.2 C82.22 364.25 82.78 364.3 83.33 364.3 C83.89 364.3 84.22 364.28 85 364.2 C85.78 364.12 87.2 364.67 88 363.8 C88.8 362.93 89.22 358.97 89.8 359 C90.38 359.03 90.97 363.2 91.5 364 C92.03 364.8 92.5 363.77 93 363.83 C93.5 363.88 94 364.23 94.5 364.33 C95 364.43 95.42 364.39 96 364.4 C96.58 364.41 97.33 364.37 98 364.4 C98.67 364.44 99.33 364.58 100 364.6 C100.67 364.62 101.33 364.62 102 364.52 C102.67 364.42 103.33 364.08 104 364 C104.67 363.92 105.33 364.09 106 364.02 C106.67 363.96 107.33 363.9 108 363.6 C108.67 363.3 109.33 362.17 110 362.2 C110.67 362.23 111.17 363.48 112 363.8 C112.83 364.12 114.21 363.96 115 364.1 C115.79 364.24 116.17 364.54 116.75 364.62 C117.33 364.71 117.83 364.17 118.5 364.6 C119.17 365.03 120.22 366.63 120.8 367.2 C121.38 367.77 121.52 368 122 368 C122.48 368 123.17 367.2 123.7 367.2 C124.23 367.2 124.67 367.03 125.2 368 C125.73 368.97 126.13 373.03 126.9 373 C127.67 372.97 128.88 367.42 129.8 367.8 C130.72 368.18 131.48 375.27 132.4 375.3 C133.32 375.33 134.38 368.28 135.3 368 C136.22 367.72 137.3 373.77 137.9 373.6 C138.5 373.43 138.63 369.27 138.9 367 C139.17 364.73 139.3 362.83 139.5 360 C139.7 357.17 139.8 356.33 140.1 350 C140.4 343.67 140.83 330.5 141.3 322 C141.77 313.5 142.53 301.33 142.9 299 C143.27 296.67 143.3 304.83 143.5 308 C143.7 311.17 143.92 315.45 144.1 318 C144.28 320.55 144.4 320.8 144.6 323.3 C144.8 325.8 145.03 328.55 145.3 333 C145.57 337.45 145.95 345.5 146.2 350 C146.45 354.5 146.58 357 146.8 360 C147.02 363 147.13 365.83 147.5 368 C147.87 370.17 148.33 373.13 149 373 C149.67 372.87 150.6 366.85 151.5 367.2 C152.4 367.55 153.43 375.05 154.4 375.1 C155.37 375.15 156.37 367.85 157.3 367.5 C158.23 367.15 159.13 373.18 160 373 C160.87 372.82 161.73 367.17 162.5 366.4 C163.27 365.63 163.63 368.65 164.6 368.4 C165.57 368.15 167.39 365.61 168.3 364.9 C169.21 364.19 169.47 364.3 170.05 364.15 C170.63 364 171.16 364.03 171.8 364 C172.44 363.97 173.2 364.06 173.9 363.96 C174.6 363.86 175.4 363.44 176 363.4 C176.6 363.36 177 363.67 177.5 363.74 C178 363.81 178.5 363.89 179 363.81 C179.5 363.73 180 363.31 180.5 363.27 C181 363.24 181.48 363.59 182 363.6 C182.52 363.61 183.07 363.39 183.6 363.31 C184.13 363.24 184.67 363.22 185.2 363.17 C185.73 363.12 186.27 362.97 186.8 363.03 C187.33 363.09 187.87 363.5 188.4 363.52 C188.93 363.55 189.47 363.2 190 363.2 C190.53 363.2 191.07 363.47 191.6 363.52 C192.13 363.57 192.67 363.46 193.2 363.49 C193.73 363.53 194.27 363.69 194.8 363.73 C195.33 363.76 195.87 363.7 196.4 363.69 C196.93 363.69 197.47 363.74 198 363.7 C198.53 363.66 199.07 363.54 199.6 363.47 C200.13 363.4 200.67 363.31 201.2 363.26 C201.73 363.21 202.27 363.13 202.8 363.18 C203.33 363.23 203.87 363.54 204.4 363.56 C204.93 363.58 205.47 363.37 206 363.3 C206.53 363.23 207.07 363.15 207.6 363.15 C208.13 363.15 208.67 363.25 209.2 363.29 C209.73 363.34 210.27 363.44 210.8 363.43 C211.33 363.41 211.87 363.18 212.4 363.2 C212.93 363.23 213.47 363.58 214 363.6 C214.53 363.62 215.07 363.4 215.6 363.35 C216.13 363.3 216.67 363.26 217.2 363.29 C217.73 363.31 218.27 363.53 218.8 363.51 C219.33 363.49 219.87 363.24 220.4 363.19 C220.93 363.14 221.47 363.21 222 363.2 C222.53 363.19 223.07 363.06 223.6 363.13 C224.13 363.21 224.67 363.6 225.2 363.64 C225.73 363.69 226.27 363.38 226.8 363.38 C227.33 363.39 227.87 363.67 228.4 363.69 C228.93 363.71 229.46 363.52 230 363.5 C230.54 363.48 231.11 363.62 231.67 363.55 C232.22 363.48 232.78 363.13 233.33 363.11 C233.89 363.08 234.39 364.02 235 363.4 C235.61 362.78 236.33 359.37 237 359.4 C237.67 359.43 238.42 362.9 239 363.6 C239.58 364.3 240 363.58 240.5 363.59 C241 363.6 241.5 363.6 242 363.66 C242.5 363.71 243 363.92 243.5 363.94 C244 363.97 244.46 363.86 245 363.8 C245.54 363.74 246.17 363.6 246.75 363.59 C247.33 363.58 247.92 363.75 248.5 363.74 C249.08 363.73 249.67 363.58 250.25 363.53 C250.83 363.47 251.44 363.44 252 363.4 C252.56 363.36 253.07 363.23 253.6 363.3 C254.13 363.38 254.67 363.83 255.2 363.85 C255.73 363.87 256.27 363.39 256.8 363.41 C257.33 363.44 257.87 363.94 258.4 364.02 C258.93 364.1 259.47 363.97 260 363.9 C260.53 363.83 261.07 363.69 261.6 363.61 C262.13 363.53 262.67 363.45 263.2 363.43 C263.73 363.41 264.27 363.44 264.8 363.51 C265.33 363.58 265.87 363.83 266.4 363.84 C266.93 363.86 267.44 363.57 268 363.6 C268.56 363.63 269.17 364.06 269.75 364.03 C270.33 364.01 270.92 363.48 271.5 363.45 C272.08 363.43 272.67 363.8 273.25 363.89 C273.83 363.98 274.21 363.92 275 364 C275.79 364.08 277.17 364.07 278 364.4 C278.83 364.73 279.33 365.32 280 366 C280.67 366.68 281.33 367.5 282 368.5 C282.67 369.5 283.45 370.83 284 372 C284.55 373.17 284.87 375.5 285.3 375.5 C285.73 375.5 286.17 374.58 286.6 372 C287.03 369.42 287.4 366.92 287.9 360 C288.4 353.08 289.07 341.83 289.6 330.5 C290.13 319.17 290.57 292 291.1 292 C291.63 292 292.27 319.17 292.8 330.5 C293.33 341.83 293.87 353.25 294.3 360 C294.73 366.75 295.02 368.5 295.4 371 C295.78 373.5 296.17 374.92 296.6 375 C297.03 375.08 297.57 371.67 298 371.5 C298.43 371.33 298.78 374.17 299.2 374 C299.62 373.83 300.03 370.83 300.5 370.5 C300.97 370.17 301.5 372.33 302 372 C302.5 371.67 303 369.33 303.5 368.5 C304 367.67 304.42 367.58 305 367 C305.58 366.42 306.17 365.45 307 365 C307.83 364.55 309.23 364.41 310 364.3 C310.77 364.19 311.07 364.3 311.6 364.35 C312.13 364.41 312.67 364.64 313.2 364.63 C313.73 364.61 314.27 364.27 314.8 364.26 C315.33 364.24 315.87 364.48 316.4 364.54 C316.93 364.59 317.47 364.63 318 364.6 C318.53 364.57 319.07 364.37 319.6 364.37 C320.13 364.37 320.67 364.64 321.2 364.59 C321.73 364.54 322.27 364.1 322.8 364.07 C323.33 364.05 323.87 364.44 324.4 364.43 C324.93 364.42 325.47 364.08 326 364 C326.53 363.92 327.07 363.95 327.6 363.95 C328.13 363.95 328.67 363.92 329.2 364 C329.73 364.08 330.27 364.37 330.8 364.44 C331.33 364.51 331.87 364.39 332.4 364.4 C332.93 364.41 333.48 364.54 334 364.5 C334.52 364.46 335 364.16 335.5 364.15 C336 364.14 336.5 364.47 337 364.45 C337.5 364.42 338 364.02 338.5 363.98 C339 363.94 339.42 364.06 340 364.2 C340.58 364.34 341.33 364.67 342 364.8 C342.67 364.93 343.17 364.63 344 365 C344.83 365.37 346.25 366.83 347 367 C347.75 367.17 347.93 365.58 348.5 366 C349.07 366.42 349.82 369.42 350.4 369.5 C350.98 369.58 351.4 366.75 352 366.5 C352.6 366.25 353.38 366.98 354 368 C354.62 369.02 355.08 373.03 355.7 372.6 C356.32 372.17 357.12 366.42 357.7 365.4 C358.28 364.38 358.67 366.32 359.2 366.5 C359.73 366.68 360.43 368.28 360.9 366.5 C361.37 364.72 361.47 363.53 362 355.8 C362.53 348.07 363.4 320.1 364.1 320.1 C364.8 320.1 365.6 348.07 366.2 355.8 C366.8 363.53 367.35 364.37 367.7 366.5 C368.05 368.63 367.95 367.9 368.3 368.6 C368.65 369.3 369.18 370.7 369.8 370.7 C370.42 370.7 371.28 368.77 372 368.6 C372.72 368.43 373.4 369.77 374.1 369.7 C374.8 369.63 375.58 368.39 376.2 368.2 C376.82 368.01 377.27 368.47 377.8 368.54 C378.33 368.6 378.78 368.06 379.4 368.6 C380.02 369.14 380.85 370.73 381.5 371.8 C382.15 372.87 382.77 373.83 383.3 375 C383.83 376.17 384.22 379.63 384.7 378.8 C385.18 377.97 385.77 373.97 386.2 370 C386.63 366.03 386.83 367.22 387.3 355 C387.77 342.78 388.47 296.7 389 296.7 C389.53 296.7 390.12 342.78 390.5 355 C390.88 367.22 391.02 365.97 391.3 370 C391.58 374.03 391.82 378.53 392.2 379.2 C392.58 379.87 393.07 375.95 393.6 374 C394.13 372.05 394.57 369.12 395.4 367.5 C396.23 365.88 397.8 364.85 398.6 364.3 C399.4 363.75 399.66 364.17 400.2 364.2 C400.74 364.23 401.29 364.42 401.83 364.45 C402.38 364.48 402.92 364.42 403.47 364.39 C404.01 364.36 404.56 364.26 405.1 364.25 C405.64 364.24 406.19 364.31 406.73 364.33 C407.28 364.35 407.82 364.35 408.37 364.38 C408.91 364.4 409.45 364.44 410 364.5 C410.55 364.56 411.11 364.79 411.67 364.72 C412.22 364.66 412.78 364.13 413.33 364.11 C413.89 364.09 414.44 364.65 415 364.62 C415.56 364.6 416.11 364.06 416.67 363.97 C417.22 363.87 417.78 364.01 418.33 364.04 C418.89 364.08 419.44 364.19 420 364.2 C420.56 364.21 421.11 364.03 421.67 364.1 C422.22 364.17 422.78 364.56 423.33 364.61 C423.89 364.66 424.44 364.44 425 364.4 C425.56 364.36 426.11 364.32 426.67 364.38 C427.22 364.45 427.78 364.77 428.33 364.8 C428.89 364.84 429.44 364.67 430 364.6 C430.56 364.53 431.11 364.4 431.67 364.38 C432.22 364.36 432.78 364.48 433.33 364.51 C433.89 364.53 434.44 364.5 435 364.52 C435.56 364.55 436.11 364.63 436.67 364.64 C437.22 364.66 437.78 364.65 438.33 364.61 C438.89 364.57 439.44 364.42 440 364.4 C440.56 364.38 441.11 364.51 441.67 364.49 C442.22 364.46 442.78 364.3 443.33 364.26 C443.89 364.22 444.44 364.26 445 364.23 C445.56 364.2 446.11 364.04 446.67 364.09 C447.22 364.15 447.78 364.52 448.33 364.56 C448.89 364.59 449.39 364.36 450 364.3 C450.61 364.24 451.33 364.28 452 364.21 C452.67 364.15 453.27 364.17 454 363.9 C454.73 363.63 455.57 362.55 456.4 362.6 C457.23 362.65 458.29 363.87 459 364.2 C459.71 364.53 460.09 364.56 460.63 364.6 C461.18 364.64 461.72 364.39 462.27 364.44 C462.81 364.48 463.31 364.14 463.9 364.9 C464.49 365.66 465.23 366.98 465.8 369 C466.37 371.02 466.78 374.4 467.3 377 C467.82 379.6 468.42 384.93 468.9 384.6 C469.38 384.27 469.78 382.43 470.2 375 C470.62 367.57 471 357.3 471.4 340 C471.8 322.7 472.12 271.2 472.6 271.2 C473.08 271.2 473.85 322.7 474.3 340 C474.75 357.3 474.92 367.57 475.3 375 C475.68 382.43 476.1 384.43 476.6 384.6 C477.1 384.77 477.72 378.8 478.3 376 C478.88 373.2 479.22 369.72 480.1 367.8 C480.98 365.88 482.75 365.07 483.6 364.5 C484.45 363.93 484.67 364.39 485.2 364.41 C485.73 364.42 486.27 364.59 486.8 364.59 C487.33 364.59 487.87 364.45 488.4 364.41 C488.93 364.36 489.46 364.37 490 364.3 C490.54 364.23 491.11 364.02 491.67 364 C492.22 363.99 492.78 364.13 493.33 364.21 C493.89 364.28 494.44 364.51 495 364.47 C495.56 364.43 496.11 364.08 496.67 363.98 C497.22 363.89 497.78 363.9 498.33 363.92 C498.89 363.94 499.44 364.11 500 364.1 C500.56 364.09 501.11 363.87 501.67 363.86 C502.22 363.85 502.78 364.05 503.33 364.04 C503.89 364.03 504.39 364.06 505 363.8 C505.61 363.54 506.33 362.47 507 362.5 C507.67 362.53 508.42 363.7 509 364 C509.58 364.3 510 364.33 510.5 364.32 C511 364.3 511.5 363.96 512 363.91 C512.5 363.85 513 363.92 513.5 363.98 C514 364.05 514.46 364.3 515 364.3 C515.54 364.3 516.17 364.02 516.75 363.97 C517.33 363.92 517.88 364.36 518.5 364 C519.12 363.64 519.83 361.7 520.5 361.8 C521.17 361.9 521.92 364.16 522.5 364.6 C523.08 365.04 523.5 364.45 524 364.44 C524.5 364.43 525 364.57 525.5 364.54 C526 364.5 526.5 364.28 527 364.24 C527.5 364.21 528 364.29 528.5 364.32 C529 364.35 529.5 364.41 530 364.4 C530.5 364.39 531 364.16 531.5 364.23 C532 364.3 532.5 364.75 533 364.83 C533.5 364.91 534 364.75 534.5 364.71 C535 364.67 535.5 364.62 536 364.6 C536.5 364.58 537 364.45 537.5 364.59 C538 364.73 538.5 365.32 539 365.46 C539.5 365.59 540.25 365.41 540.5 365.4" class="sp" stroke-width="1.15"/>
<path d="M552.6 364 C552.97 363.98 554.07 363.82 554.8 363.87 C555.53 363.92 556.36 364.28 557 364.3 C557.64 364.32 558.11 364.01 558.67 363.99 C559.22 363.96 559.78 364.24 560.33 364.17 C560.89 364.11 561.43 363.81 562 363.6 C562.57 363.39 563.17 363.21 563.75 362.91 C564.33 362.61 564.79 361.53 565.5 361.8 C566.21 362.07 567.29 364.01 568 364.5 C568.71 364.99 569.17 364.7 569.75 364.71 C570.33 364.72 570.92 364.6 571.5 364.55 C572.08 364.51 572.67 364.41 573.25 364.44 C573.83 364.46 574.42 364.65 575 364.7 C575.58 364.75 576.17 364.81 576.75 364.75 C577.33 364.68 577.92 364.39 578.5 364.32 C579.08 364.26 579.67 364.32 580.25 364.34 C580.83 364.37 581.38 364.56 582 364.5 C582.62 364.44 583.33 364.12 584 363.97 C584.67 363.82 585.33 364.43 586 363.6 C586.67 362.77 587.37 360.38 588 359 C588.63 357.62 589.22 355.47 589.8 355.3 C590.38 355.13 590.97 356.88 591.5 358 C592.03 359.12 592.42 361.03 593 362 C593.58 362.97 594.17 363.58 595 363.8 C595.83 364.02 597.17 363.33 598 363.3 C598.83 363.27 599.39 363.57 600 363.6 C600.61 363.63 601.11 363.42 601.67 363.47 C602.22 363.53 602.78 363.81 603.33 363.93 C603.89 364.05 604.44 364.1 605 364.2 C605.56 364.3 606.11 364.47 606.67 364.54 C607.22 364.6 607.78 364.59 608.33 364.6 C608.89 364.61 609.47 364.58 610 364.6 C610.53 364.62 611.02 364.67 611.53 364.73 C612.04 364.79 612.56 364.91 613.07 364.96 C613.58 365 613.86 364.74 614.6 365 C615.34 365.26 616.72 365.35 617.5 366.5 C618.28 367.65 618.77 371.25 619.3 371.9 C619.83 372.55 620.32 370.58 620.7 370.4 C621.08 370.22 621.17 369.5 621.6 370.8 C622.03 372.1 622.72 377.83 623.3 378.2 C623.88 378.57 624.42 372.52 625.1 373 C625.78 373.48 626.73 381.2 627.4 381.1 C628.07 381 628.62 373.65 629.1 372.4 C629.58 371.15 629.92 373.25 630.3 373.6 C630.68 373.95 631.02 378.43 631.4 374.5 C631.78 370.57 632.2 360.75 632.6 350 C633 339.25 633.37 324.88 633.8 310 C634.23 295.12 634.73 260.7 635.2 260.7 C635.67 260.7 636.17 295.12 636.6 310 C637.03 324.88 637.47 340.83 637.8 350 C638.13 359.17 638.25 360.3 638.6 365 C638.95 369.7 639.45 376.77 639.9 378.2 C640.35 379.63 640.68 373.02 641.3 373.6 C641.92 374.18 642.83 381.67 643.6 381.7 C644.37 381.73 645.22 374.38 645.9 373.8 C646.58 373.22 647.02 379.1 647.7 378.2 C648.38 377.3 649.33 369.65 650 368.4 C650.67 367.15 651.03 370.98 651.7 370.7 C652.37 370.42 653.13 367.85 654 366.7 C654.87 365.55 656.12 364.15 656.9 363.8 C657.68 363.45 657.83 364.83 658.7 364.6 C659.57 364.37 661.27 362.67 662.1 362.4 C662.93 362.13 663.14 362.84 663.67 363.01 C664.19 363.18 664.71 363.2 665.23 363.42 C665.76 363.63 666.27 364.22 666.8 364.3 C667.33 364.38 667.87 364.07 668.4 363.92 C668.93 363.77 669.46 363.46 670 363.4 C670.54 363.34 671.11 363.44 671.67 363.53 C672.22 363.63 672.78 363.89 673.33 363.97 C673.89 364.05 674.44 363.96 675 364 C675.56 364.04 676.11 364.25 676.67 364.22 C677.22 364.19 677.78 363.89 678.33 363.82 C678.89 363.75 679.44 363.78 680 363.8 C680.56 363.82 681.11 363.89 681.67 363.95 C682.22 364.01 682.78 364.15 683.33 364.17 C683.89 364.2 684.44 364.14 685 364.1 C685.56 364.06 686.11 364.01 686.67 363.94 C687.22 363.88 687.78 363.73 688.33 363.71 C688.89 363.69 689.44 363.75 690 363.8 C690.56 363.85 691.11 363.96 691.67 364.02 C692.22 364.09 692.78 364.2 693.33 364.2 C693.89 364.2 694.43 364.01 695 364 C695.57 363.99 696.17 364.16 696.75 364.14 C697.33 364.13 698.21 363.94 698.5 363.9" class="sp" stroke-width="1.15"/>
<text x="392" y="430" class="axl" text-anchor="middle">&#957; (MHz)</text>
<rect x="1" y="162" width="95.5" height="120.4" fill="#fff" stroke="#3a3a3a" stroke-width="1.15"/>
<path d="M1.5 276 C2.25 275.17 4.13 272.45 6 271 C7.87 269.55 10.87 267.55 12.7 267.3 C14.53 267.05 15.35 268.4 17 269.5 C18.65 270.6 20.93 274.15 22.6 273.9 C24.27 273.65 25.5 270.77 27 268 C28.5 265.23 30.27 261.3 31.6 257.3 C32.93 253.3 33.98 248.52 35 244 C36.02 239.48 36.78 237.53 37.7 230.2 C38.62 222.87 39.5 208.28 40.5 200 C41.5 191.72 42.7 181.33 43.7 180.5 C44.7 179.67 45.58 190.33 46.5 195 C47.42 199.67 48.17 205.38 49.2 208.5 C50.23 211.62 51.73 210.95 52.7 213.7 C53.67 216.45 54.25 220.73 55 225 C55.75 229.27 56.37 234.8 57.2 239.3 C58.03 243.8 58.99 247.98 60 252 C61.01 256.02 62.17 260.32 63.25 263.4 C64.33 266.48 65.39 268.85 66.5 270.5 C67.61 272.15 68.65 273.38 69.9 273.3 C71.15 273.22 72.35 271.25 74 270 C75.65 268.75 78.13 266.22 79.8 265.8 C81.47 265.38 82.75 266.65 84 267.5 C85.25 268.35 85.98 269.58 87.3 270.9 C88.62 272.22 90.78 274.88 91.9 275.4 C93.02 275.92 93.25 274.75 94 274 C94.75 273.25 96 271.42 96.4 270.9" class="sp" stroke-width="1"/>
<line x1="9.66" y1="282.4" x2="9.66" y2="284.59999999999997" class="ax"/>
<line x1="20.18" y1="282.4" x2="20.18" y2="284.59999999999997" class="ax"/>
<line x1="30.7" y1="282.4" x2="30.7" y2="286.59999999999997" class="ax"/>
<text x="30.7" y="298" class="tl" text-anchor="middle">42730</text>
<line x1="41.22" y1="282.4" x2="41.22" y2="284.59999999999997" class="ax"/>
<line x1="51.74" y1="282.4" x2="51.74" y2="284.59999999999997" class="ax"/>
<line x1="62.26" y1="282.4" x2="62.26" y2="284.59999999999997" class="ax"/>
<line x1="72.78" y1="282.4" x2="72.78" y2="284.59999999999997" class="ax"/>
<line x1="83.3" y1="282.4" x2="83.3" y2="286.59999999999997" class="ax"/>
<text x="83.3" y="298" class="tl" text-anchor="middle">42735</text>
<line x1="93.82" y1="282.4" x2="93.82" y2="284.59999999999997" class="ax"/>
<path d="M215.4 188.4 H223.5 V223.3 H229.7 L219.5 241.6 L209.2 223.3 H215.4 Z" fill="#a3a3a3" stroke="#3c3c3c" stroke-width="0.9"/>
<text x="263.5" y="223.1" class="lab"><tspan font-style="italic">v</tspan><tspan dy="2" font-size="6.5">b</tspan><tspan dy="-2"> </tspan><tspan class="eq">=</tspan> 0, <tspan font-style="italic">m</tspan> <tspan class="eq">=</tspan> &#8211;2</text>
<text x="365.4" y="223.1" class="lab"><tspan font-style="italic">v</tspan><tspan dy="2" font-size="6.5">b</tspan><tspan dy="-2"> </tspan><tspan class="eq">=</tspan> 0, <tspan font-style="italic">m</tspan> <tspan class="eq">=</tspan> 1</text>
<text x="337" y="237" class="lab"><tspan font-style="italic">v</tspan><tspan dy="2" font-size="6.5">b</tspan><tspan dy="-2"> </tspan><tspan class="eq">=</tspan> 1, <tspan font-style="italic">m</tspan> <tspan class="eq">=</tspan> 0</text>
<text x="447" y="223.1" class="lab"><tspan font-style="italic">v</tspan><tspan dy="2" font-size="6.5">b</tspan><tspan dy="-2"> </tspan><tspan class="eq">=</tspan> 0, <tspan font-style="italic">m</tspan> <tspan class="eq">=</tspan> 1</text>
<text x="609.8" y="223.1" class="lab"><tspan font-style="italic">v</tspan><tspan dy="2" font-size="6.5">b</tspan><tspan dy="-2"> </tspan><tspan class="eq">=</tspan> 0, <tspan font-style="italic">m</tspan> <tspan class="eq">=</tspan> 0</text>
<text x="129.4" y="286" class="kl"><tspan font-style="italic">K</tspan> = 4</text>
<text x="278.6" y="278.5" class="kl"><tspan font-style="italic">K</tspan> = 2</text>
<text x="373.3" y="285.6" class="kl"><tspan font-style="italic">K</tspan> = &#8211;1</text>
<text x="352.2" y="308" class="kl"><tspan font-style="italic">K</tspan> = 3</text>
<text x="459.8" y="258" class="kl"><tspan font-style="italic">K</tspan> = 1</text>
<text x="622.6" y="248" class="kl"><tspan font-style="italic">K</tspan> = 3</text>
<path d="M142.2 262 C136 249 126 236 110 235.2" fill="none" stroke="#b0101a" stroke-width="1.5" stroke-dasharray="1.4 1.3"/>
<path d="M102.4 235.1 L110.8 231.3 L109.2 235.2 L110.8 238.9 Z" fill="#b0101a"/>
<path d="M351.8 246.3 C352 262 354 266 358 269 C364 273 366 280 366.3 288" fill="none" stroke="#000" stroke-width="1" stroke-dasharray="1.2 0.9"/>
<path d="M366.4 292.4 L364.3 287 L368.5 287 Z" fill="#000"/>
<path d="M406.4 234.4 C406.5 244 402 247 398.5 250 C394.5 254 393.6 257 393.6 262" fill="none" stroke="#000" stroke-width="1" stroke-dasharray="1.2 0.9"/>
<path d="M393.5 266.6 L391.4 261.4 L395.6 261.4 Z" fill="#000"/>
</svg>
</body></html>
